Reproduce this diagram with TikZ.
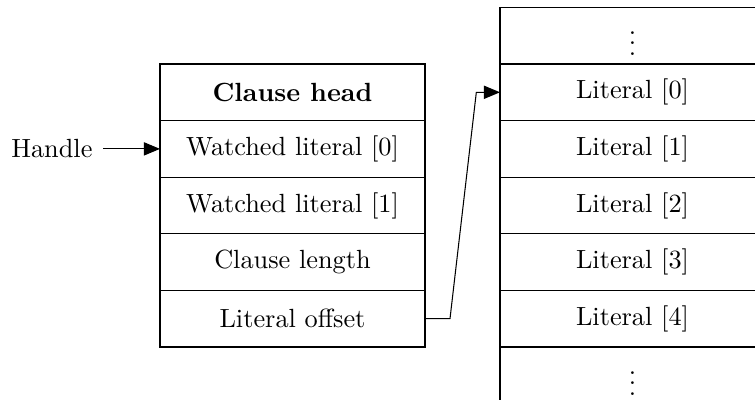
\documentclass[tikz,border=0pt]{standalone}
\usetikzlibrary{arrows.meta,calc}
\begin{document}
\begin{tikzpicture}[x=0.3802pt,y=-0.3802pt,
  cell/.style={draw,line width=0.4pt,minimum width=100.76pt,minimum height=21.52pt,
    inner sep=0pt,outer sep=0pt,anchor=center},
  link/.style={line width=0.4pt,-{Triangle[length=6.1pt,width=5pt]}}]
  \useasboundingbox (0,0) rectangle (755,400);
  % clause record
  \node[cell] (head) at (292.5,92.3) {\textbf{Clause head}};
  \node[cell] (w0)   at (292.5,148.9) {Watched literal [0]};
  \node[cell] (w1)   at (292.5,205.5) {Watched literal [1]};
  \node[cell] (len)  at (292.5,262.1) {Clause length};
  \node[cell] (off)  at (292.5,318.7) {Literal offset};
  % literal array
  \node[cell] (ltop) at (632.5,35.7)  {$\vdots$};
  \node[cell] (l0)   at (632.5,92.3)  {Literal [0]};
  \node[cell] (l1)   at (632.5,148.9) {Literal [1]};
  \node[cell] (l2)   at (632.5,205.5) {Literal [2]};
  \node[cell] (l3)   at (632.5,262.1) {Literal [3]};
  \node[cell] (l4)   at (632.5,318.7) {Literal [4]};
  \node[cell] (lbot) at (632.5,375.3) {$\vdots$};
  % handle pointer
  \node[anchor=east,inner sep=3.8pt] (handle) at (103,148.9) {Handle};
  \draw[link] (handle.east) -- (w0.west);
  % offset pointer into the literal array
  \draw[link] (off.east) -- ++(9.5pt,0) -- ($(l0.west)+(-9pt,0)$) -- (l0.west);
\end{tikzpicture}
\end{document}
